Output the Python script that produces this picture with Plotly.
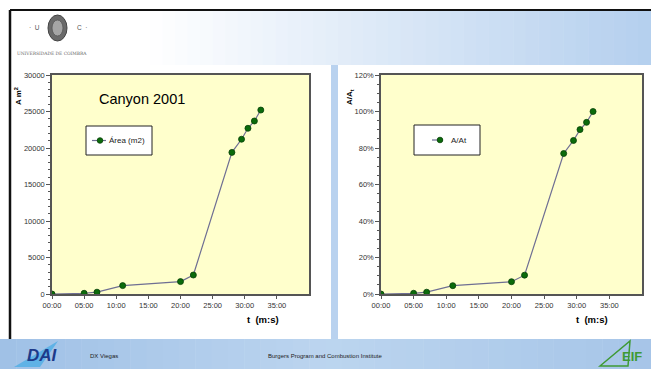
import plotly.graph_objects as go

# Canyon fire 2001: burned area growth over time
t_min = [0, 5, 7, 11, 20, 22, 28, 29.5, 30.5, 31.5, 32.5]          # elapsed time (minutes)
area_m2 = [0, 100, 250, 1150, 1700, 2600, 19400, 21200, 22700, 23700, 25200]
area_frac = [a / area_m2[-1] for a in area_m2]                      # A / A_total

x_tickvals = [0, 5, 10, 15, 20, 25, 30, 35]
x_ticktext = ["00:00", "05:00", "10:00", "15:00", "20:00", "25:00", "30:00", "35:00"]

W, H = 651, 369
FONT = "Liberation Sans"
LINE_C = "#6f6f93"
MARK_C = "#0b6b0b"
AXIS_C = "#555555"


def px(x):
    return x / W


def py(y):
    return 1 - y / H


def mix(c1, c2, f):
    a = [int(c1[i:i + 2], 16) for i in (1, 3, 5)]
    b = [int(c2[i:i + 2], 16) for i in (1, 3, 5)]
    return "#" + "".join(f"{round(a[k] + (b[k] - a[k]) * f):02x}" for k in range(3))


fig = go.Figure()

marker = dict(size=6, color=MARK_C, line=dict(color="#064006", width=0.8))
fig.add_trace(go.Scatter(x=t_min, y=area_m2, mode="lines+markers",
                         line=dict(color=LINE_C, width=1.2), marker=marker,
                         name="Área (m2)", xaxis="x", yaxis="y", showlegend=False))
fig.add_trace(go.Scatter(x=t_min, y=area_frac, mode="lines+markers",
                         line=dict(color=LINE_C, width=1.2), marker=marker,
                         name="A/At", xaxis="x2", yaxis="y2", showlegend=False))

tickfont = dict(family=FONT, size=7.5, color="#333333")
xcommon = dict(range=[0, 40], tickvals=x_tickvals, ticktext=x_ticktext,
               showgrid=False, zeroline=False, showline=True, mirror=True,
               linecolor=AXIS_C, linewidth=1.5, ticks="outside", ticklen=3,
               tickcolor=AXIS_C, tickfont=tickfont, automargin=False)
ycommon = dict(showgrid=False, zeroline=False, showline=True, mirror=True,
               linecolor=AXIS_C, linewidth=1.5, ticks="outside", ticklen=4,
               tickcolor=AXIS_C, tickfont=tickfont, automargin=False)

shapes = []

# header band: white on the left fading to light blue on the right
n = 40
for i in range(n):
    x0 = 150 + (W - 150) * i / n
    x1 = 150 + (W - 150) * (i + 1) / n + 0.5
    shapes.append(dict(type="rect", xref="paper", yref="paper", layer="below",
                       x0=px(x0), x1=px(x1), y0=py(65), y1=py(11),
                       fillcolor=mix("#ffffff", "#b4cfee", (i + 0.5) / n),
                       line=dict(width=0)))

# footer band
for i in range(n):
    x0 = W * i / n
    x1 = W * (i + 1) / n + 0.5
    f = (i + 0.5) / n
    col = mix("#9fc0e6", "#bcd5ef", f * 2) if f < 0.5 else mix("#bcd5ef", "#a6c5e8", (f - 0.5) * 2)
    shapes.append(dict(type="rect", xref="paper", yref="paper", layer="below",
                       x0=px(x0), x1=px(x1), y0=py(369), y1=py(339),
                       fillcolor=col, line=dict(width=0)))

# strip between the two panels
shapes.append(dict(type="rect", xref="paper", yref="paper", layer="below",
                   x0=px(331), x1=px(338), y0=py(339), y1=py(65),
                   fillcolor="#b9d2ef", line=dict(width=0)))

# dark frame lines
shapes.append(dict(type="line", xref="paper", yref="paper",
                   x0=px(10), x1=px(W), y0=py(10), y1=py(10),
                   line=dict(color="#111111", width=2)))
shapes.append(dict(type="line", xref="paper", yref="paper",
                   x0=px(10), x1=px(10), y0=py(10), y1=py(339),
                   line=dict(color="#111111", width=2.5)))


# legend boxes
def legend_box(x0, x1, y0, y1, lx0, lx1, mx):
    yc = (y0 + y1) / 2
    shapes.append(dict(type="rect", xref="paper", yref="paper",
                       x0=px(x0), x1=px(x1), y0=py(y1), y1=py(y0),
                       fillcolor="#ffffff", line=dict(color="#222222", width=1)))
    shapes.append(dict(type="line", xref="paper", yref="paper",
                       x0=px(lx0), x1=px(lx1), y0=py(yc), y1=py(yc),
                       line=dict(color=LINE_C, width=1.2)))
    shapes.append(dict(type="circle", xref="paper", yref="paper",
                       x0=px(mx - 2.8), x1=px(mx + 2.8), y0=py(yc + 2.8), y1=py(yc - 2.8),
                       fillcolor=MARK_C, line=dict(color="#064006", width=0.8)))


legend_box(86, 152, 126, 155, 92, 106, 100)
legend_box(414, 480, 125, 155, 432, 443, 440)

# university seal
shapes.append(dict(type="circle", xref="paper", yref="paper",
                   x0=px(48), x1=px(67), y0=py(41), y1=py(15),
                   fillcolor="#6a6a6a", line=dict(color="#444444", width=1)))
shapes.append(dict(type="circle", xref="paper", yref="paper",
                   x0=px(52), x1=px(63), y0=py(36), y1=py(20),
                   fillcolor="#a5a5a5", line=dict(color="#555555", width=0.8)))

# footer logos
shapes.append(dict(type="path", xref="paper", yref="paper",
                   path=f"M {px(14)},{py(367)} L {px(58)},{py(341)} L {px(40)},{py(367)} Z",
                   fillcolor="#5fb2e6", line=dict(width=0)))
shapes.append(dict(type="path", xref="paper", yref="paper",
                   path=f"M {px(600)},{py(366)} L {px(630)},{py(341)} L {px(628)},{py(366)} Z",
                   fillcolor="rgba(0,0,0,0)", line=dict(color="#3f9a35", width=1.5)))

ann = []


def text(x, y, s, size, color="#000000", bold=False, xanchor="center", angle=0,
         family=FONT, italic=False):
    if bold:
        s = f"<b>{s}</b>"
    if italic:
        s = f"<i>{s}</i>"
    ann.append(dict(x=px(x), y=py(y), xref="paper", yref="paper", text=s,
                    showarrow=False, xanchor=xanchor, yanchor="middle",
                    textangle=angle, font=dict(family=family, size=size, color=color)))


text(141.5, 99, "Canyon 2001", 14.5)
text(107, 140.5, "Área (m2)", 8, color="#222222", xanchor="left")
text(449, 140, "A/At", 8, color="#222222", xanchor="left")
text(18, 96, "A m<sup>2</sup>", 8, bold=True, angle=-90)
text(350, 97, "A/A<sub>t</sub>", 8, bold=True, angle=-90)
text(263, 319, "t  (m:s)", 9.5, bold=True)
text(592, 319, "t  (m:s)", 9.5, bold=True)

# header lettering
text(34, 28, "·  U", 6.5, color="#555555")
text(82, 28, "C  ·", 6.5, color="#555555")
text(15, 53, "UNIVERSIDADE DE COIMBRA", 4.4, color="#666666", xanchor="left",
     family="DejaVu Serif")

# footer lettering
text(42, 355, "DAI", 17, color="#1d3a8a", bold=True, italic=True)
text(88, 356, "DX Viegas", 6, color="#222222", xanchor="left")
text(325, 356, "Burgers Program and Combustion Institute", 6, color="#222222")
text(632, 356, "EIF", 13, color="#3f9a35", bold=True)

fig.update_layout(
    width=W, height=H,
    margin=dict(l=0, r=0, t=0, b=0, autoexpand=False),
    paper_bgcolor="#ffffff",
    plot_bgcolor="#ffffcc",
    font=dict(family=FONT),
    xaxis=dict(domain=[px(52), px(309)], anchor="y", **xcommon),
    yaxis=dict(domain=[py(294), py(75)], anchor="x", range=[0, 30000], dtick=5000,
               tickformat="d",
               minor=dict(ticks="outside", ticklen=2, dtick=1000, tickcolor=AXIS_C),
               **ycommon),
    xaxis2=dict(domain=[px(381), px(642)], anchor="y2", **xcommon),
    yaxis2=dict(domain=[py(294), py(75)], anchor="x2", range=[0, 1.2], dtick=0.2,
                tickformat=".0%",
                minor=dict(ticks="outside", ticklen=2, dtick=0.05, tickcolor=AXIS_C),
                **ycommon),
    shapes=shapes,
    annotations=ann,
    showlegend=False,
)

fig.write_html("out.html")
